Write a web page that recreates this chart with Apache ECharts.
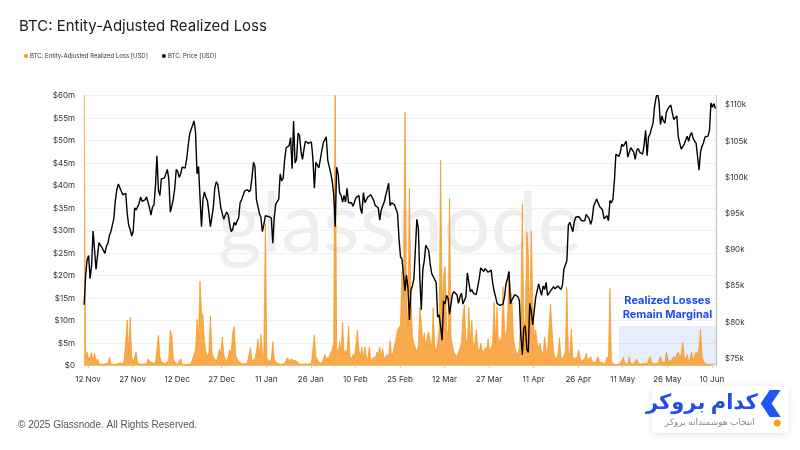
<!DOCTYPE html>
<html>
<head>
<meta charset="utf-8">
<script src="https://cdn.jsdelivr.net/npm/echarts@6/dist/echarts.min.js"></script>
<style>
html,body{margin:0;padding:0;background:#fff;}
#chart{width:800px;height:450px;}
</style>
</head>
<body>
<div id="chart"></div>
<script>
// ---- data (12-hour steps, day 0 = 12 Nov 2024) ----
const START_DAY = -1.3;
const STEP_DAY = 0.5;
const xTickDays = [0, 15, 30, 45, 60, 75, 90, 105, 120, 135, 150, 165, 180, 195, 210];
const xTickLabels = ['12 Nov', '27 Nov', '12 Dec', '27 Dec', '11 Jan', '26 Jan', '10 Feb', '25 Feb', '12 Mar', '27 Mar', '11 Apr', '26 Apr', '11 May', '26 May', '10 Jun'];
const lossTicks = [0, 5, 10, 15, 20, 25, 30, 35, 40, 45, 50, 55, 60];
const priceTicks = [75, 80, 85, 90, 95, 100, 105, 110];

// BTC price, thousands USD
const priceK = [
  82.4,
  86.5, 88.6, 89.2, 86.0, 87.8, 92.6, 90.0, 87.3, 89.2, 91.0, 90.6, 90.3, 90.2, 89.5, 90.5, 90.9, 92.0, 92.5, 92.4, 94.3,
  96.8, 98.3, 99.1, 98.6, 98.1, 97.6, 97.4, 97.8, 95.0, 93.4, 92.8, 91.9, 92.5, 95.8, 95.5, 95.6, 96.4, 97.3, 96.7, 96.5,
  // Dec
  96.9, 97.3, 97.2, 95.8, 94.8, 95.9, 96.2, 98.8, 103.0, 98.2, 97.5, 99.8, 99.8, 99.9, 100.0, 101.1, 99.8, 95.2, 96.0, 97.0,
  98.5, 101.1, 100.8, 100.0, 100.5, 101.4, 101.5, 101.3, 102.5, 104.3, 106.0, 106.1, 107.2, 107.8, 106.2, 100.5, 101.5, 97.3, 93.2, 97.0,
  98.0, 97.2, 96.8, 95.1, 93.2, 94.5, 96.0, 98.6, 99.4, 99.0, 97.5, 95.8, 95.8, 94.2, 94.8, 95.2, 94.8, 93.5, 92.5, 92.8, 93.8, 93.4,
  // Jan
  94.0, 94.4, 96.5, 96.9, 97.0, 98.1, 98.2, 98.3, 98.0, 98.3, 100.0, 102.1, 101.5, 96.9, 96.0, 95.0, 94.5, 92.5, 93.5, 94.7,
  94.5, 94.6, 94.5, 94.4, 90.9, 94.5, 96.3, 96.5, 97.0, 100.5, 99.5, 99.9, 102.5, 104.1, 104.0, 104.4, 105.5, 101.2, 107.8, 102.0,
  102.5, 106.1, 105.8, 103.6, 102.5, 103.9, 105.0, 104.8, 104.7, 104.7, 104.9, 102.6, 98.5, 102.1, 102.0, 101.3, 102.5, 103.7, 104.8, 104.7, 105.6, 102.4,
  // Feb
  101.5, 100.6, 99.5, 97.7, 93.2, 101.4, 100.5, 97.9, 97.5, 96.6, 97.5, 96.6, 98.5, 96.5, 96.5, 96.5, 96.0, 96.1, 97.2, 97.4,
  97.5, 95.7, 95.0, 97.9, 96.5, 96.6, 97.3, 97.5, 97.6, 97.6, 96.8, 96.1, 96.0, 95.8, 94.1, 95.5, 95.7, 96.6, 97.5, 98.3,
  99.2, 96.1, 96.5, 96.6, 96.2, 96.2, 95.0, 91.5, 89.0, 88.7, 88.5, 84.3, 86.5, 84.7, 80.3, 84.4,
  // Mar
  85.0, 86.0, 86.0, 94.2, 93.0, 86.1, 81.7, 87.2, 88.5, 90.6, 90.5, 89.9, 88.0, 86.7, 86.3, 86.1, 85.5, 80.7, 81.0, 79.4,
  77.5, 82.9, 82.5, 83.7, 83.3, 81.1, 82.5, 83.9, 84.2, 84.3, 83.8, 82.6, 83.5, 84.0, 82.5, 82.7, 83.5, 86.8, 85.5, 84.2,
  84.5, 84.0, 84.2, 83.8, 84.0, 86.0, 87.5, 87.5, 87.0, 87.4, 87.5, 86.9, 86.8, 87.2, 85.5, 84.3, 83.5, 82.6, 82.8, 82.3, 82.2, 82.5,
  // Apr
  83.5, 85.2, 86.0, 87.0, 82.5, 83.1, 83.0, 83.8, 83.7, 83.5, 83.0, 78.2, 75.5, 79.2, 79.5, 76.3, 75.8, 82.6, 81.5, 79.6,
  81.5, 83.4, 83.5, 85.3, 84.5, 83.7, 85.0, 84.5, 85.5, 83.7, 84.0, 84.0, 84.6, 84.9, 84.6, 84.5, 85.0, 85.0, 84.5, 85.1,
  87.3, 87.5, 88.5, 93.4, 93.8, 93.7, 92.5, 93.9, 94.5, 94.7, 94.6, 94.6, 94.0, 93.8, 94.0, 94.9, 95.0, 94.3, 93.5, 94.2,
  // May
  96.0, 96.5, 97.0, 96.9, 96.0, 95.9, 95.5, 94.3, 94.5, 94.7, 94.0, 96.8, 96.5, 97.0, 99.5, 103.2, 103.0, 102.9, 103.5, 104.6,
  104.3, 104.1, 105.0, 102.8, 103.0, 104.1, 103.8, 103.5, 102.5, 103.7, 104.0, 103.5, 103.5, 103.2, 104.5, 106.5, 103.0, 105.6, 106.0, 106.8,
  107.5, 109.7, 111.0, 111.7, 110.5, 107.3, 108.5, 107.8, 107.5, 109.0, 109.5, 109.4, 110.0, 108.9, 108.0, 107.8, 108.5, 105.6, 105.5, 103.9, 104.0, 104.6,
  // Jun
  104.5, 105.7, 105.0, 105.8, 106.2, 105.4, 105.0, 104.7, 104.5, 101.0, 103.5, 104.3, 104.8, 105.6, 105.6, 105.7, 106.5, 110.3, 109.7, 110.2,
  109.5
];

// Entity-adjusted realized loss, millions USD
const lossM = [
  62,
  1.5, 3.1, 1.2, 0.8, 2.9, 1.0, 2.8, 0.9, 1.5, 0.5, 0.4, 0.3, 0.3, 0.4, 0.3, 0.5, 1.9, 0.4, 0.3, 0.3,
  0.4, 0.3, 0.3, 0.6, 0.8, 0.4, 1.2, 0.8, 10.2, 2.5, 10.8, 2.0, 0.8, 0.5, 3.1, 0.6, 0.4, 0.3, 0.3, 0.4,
  // Dec
  0.5, 0.4, 1.5, 1.0, 1.3, 0.6, 0.5, 0.6, 1.0, 6.8, 2.0, 0.8, 0.6, 0.5, 0.4, 0.7, 1.5, 7.9, 6.8, 1.6,
  0.8, 0.5, 0.4, 0.3, 1.6, 0.4, 0.3, 0.2, 0.2, 0.3, 0.3, 0.5, 1.5, 2.5, 3.5, 10.3, 6.0, 18.8, 12.0, 11.0,
  5.4, 3.0, 2.0, 3.0, 11.0, 3.0, 2.0, 1.5, 1.0, 2.0, 3.7, 2.5, 6.4, 2.5, 1.5, 1.0, 2.0, 3.6, 2.5, 7.3, 8.7, 2.5,
  // Jan
  1.5, 1.0, 0.6, 0.5, 0.4, 0.4, 0.5, 0.8, 1.2, 4.0, 1.0, 0.8, 1.5, 3.0, 6.0, 2.0, 7.0, 3.0, 2.5, 31.6,
  1.8, 1.0, 0.8, 1.2, 5.3, 1.5, 0.8, 0.5, 0.4, 0.3, 0.3, 0.4, 0.5, 0.6, 1.8, 1.0, 1.5, 1.8, 1.2, 1.6,
  1.0, 0.6, 0.4, 0.3, 0.3, 0.3, 0.4, 0.3, 0.3, 0.5, 0.6, 1.0, 6.8, 2.0, 1.4, 0.8, 0.6, 0.5, 0.8, 2.5, 1.5, 1.2,
  // Feb
  2.0, 3.0, 3.5, 5.0, 65, 4.0, 2.5, 5.4, 3.0, 9.6, 2.5, 3.5, 2.5, 8.8, 2.0, 1.5, 2.5, 1.8, 1.5, 7.9,
  3.5, 2.0, 4.2, 1.5, 4.2, 2.0, 1.5, 4.2, 1.0, 0.8, 2.0, 1.5, 3.0, 2.5, 4.2, 2.0, 3.8, 1.5, 1.5, 2.5,
  2.0, 5.6, 2.0, 3.0, 4.5, 6.0, 7.9, 8.5, 9.0, 20.9, 15.0, 56.3, 14.0, 8.7, 39.4, 16.0,
  // Mar
  6.5, 5.0, 4.0, 3.0, 4.5, 13.0, 9.5, 5.0, 7.3, 4.0, 6.5, 7.5, 5.5, 4.0, 12.9, 4.5, 3.0, 5.0, 8.0, 45.7,
  13.0, 20.0, 22.0, 8.0, 7.0, 37.2, 6.0, 4.5, 3.0, 2.5, 2.0, 3.0, 4.0, 5.0, 10.9, 13.5, 6.0, 4.5, 13.0, 5.0,
  10.0, 4.0, 5.0, 8.0, 4.0, 3.0, 5.0, 3.5, 3.0, 4.0, 3.5, 6.0, 3.0, 4.0, 5.0, 14.2, 5.0, 13.0, 4.0, 6.0, 5.0, 17.6,
  // Apr
  8.0, 6.0, 10.0, 20.9, 17.0, 15.0, 6.0, 4.0, 3.0, 2.5, 4.0, 12.0, 36.0, 9.0, 10.0, 29.8, 25.0, 10.0, 30.0, 14.6,
  6.0, 8.0, 5.0, 4.0, 5.0, 3.0, 2.5, 6.4, 3.6, 3.0, 3.0, 13.7, 8.0, 3.0, 2.0, 1.5, 2.5, 6.2, 2.0, 1.5,
  1.5, 3.0, 17.4, 3.0, 2.5, 8.1, 2.0, 1.5, 1.2, 2.0, 3.5, 1.5, 1.0, 0.8, 1.5, 2.8, 1.2, 0.8, 2.0, 1.0,
  // May
  0.8, 0.6, 0.5, 2.0, 0.8, 0.5, 0.6, 0.4, 0.5, 2.0, 1.5, 17.2, 0.8, 0.4, 0.3, 0.3, 0.3, 0.4, 0.5, 0.3,
  1.8, 0.5, 0.4, 0.3, 2.0, 0.5, 0.4, 0.3, 0.4, 1.5, 0.5, 0.3, 0.3, 0.4, 0.5, 0.3, 0.4, 0.5, 2.0, 0.6,
  0.5, 0.4, 0.3, 0.5, 1.0, 2.0, 0.8, 0.5, 0.6, 3.0, 1.5, 0.8, 1.0, 1.5, 2.0, 1.5, 2.5, 3.0, 2.0, 2.5, 5.1, 2.0,
  // Jun
  1.5, 2.5, 1.0, 1.5, 3.0, 1.2, 1.5, 3.0, 2.5, 4.0, 8.1, 2.0, 1.0, 0.5, 0.3, 0.3, 0.4, 0.3, 0.3, 0.4,
  0.3
];

// annotation box extent (day range, loss level in $m)
const BOX_FROM_DAY = 178.7;
const BOX_TO_DAY = 211.4;
const BOX_TOP_M = 8.8;

const X_MIN = -1.35, X_MAX = 211.4;

const lossData = lossM.map((v, i) => [START_DAY + i * STEP_DAY, v]);
const priceData = priceK.map((v, i) => [START_DAY + i * STEP_DAY, v]);

const chart = echarts.init(document.getElementById('chart'), null, {renderer: 'canvas'});
const FONT = 'Inter, "Noto Sans", sans-serif';

chart.setOption({
  animation: false,
  backgroundColor: '#ffffff',
  title: {
    text: 'BTC: Entity-Adjusted Realized Loss',
    left: 14, top: 14,
    textStyle: {fontFamily: FONT, fontSize: 15, fontWeight: 'normal', color: '#1c1c1c'}
  },
  legend: {
    left: 19, top: 48,
    icon: 'circle', itemWidth: 4, itemHeight: 4, itemGap: 14,
    textStyle: {fontFamily: FONT, fontSize: 6, color: '#333', padding: [0, 0, 0, -3]},
    data: ['BTC: Entity-Adjusted Realized Loss [USD]', 'BTC: Price [USD]']
  },
  grid: {left: 84, right: 84, top: 95.7, bottom: 84.3, containLabel: false},
  xAxis: {
    type: 'value', min: X_MIN, max: X_MAX,
    axisLine: {show: false},
    axisTick: {show: true, length: 3, lineStyle: {color: '#cfcfcf'}, customValues: xTickDays},
    splitLine: {show: false},
    axisLabel: {
      customValues: xTickDays,
      margin: 10, fontFamily: FONT, fontSize: 8, color: '#333',
      formatter: function (v) {
        const i = xTickDays.indexOf(Math.round(v));
        return i >= 0 ? xTickLabels[i] : '';
      }
    }
  },
  yAxis: [
    {
      type: 'value', min: 0, max: 60, interval: 5,
      axisLine: {show: false}, axisTick: {show: false},
      splitLine: {show: true, lineStyle: {color: '#f0f0f0', width: 1}},
      axisLabel: {
        margin: 9, fontFamily: FONT, fontSize: 8, color: '#333',
        formatter: v => v === 0 ? '$0' : '$' + v + 'm'
      }
    },
    {
      type: 'value', position: 'right', min: 73.98, max: 111.29,
      axisLine: {show: true, lineStyle: {color: '#c4c4c4', width: 1.2}},
      axisTick: {show: false},
      splitLine: {show: false},
      axisLabel: {
        customValues: priceTicks,
        margin: 9, fontFamily: FONT, fontSize: 8, color: '#333',
        formatter: v => '$' + v + 'k'
      }
    }
  ],
  graphic: [
    {
      type: 'text', left: 'center', top: 183, z: 0, silent: true,
      style: {text: 'glassnode', fontFamily: 'Lato, Inter, sans-serif', fontSize: 84, fontWeight: 'normal', fill: '#eeeeee'}
    },
    {
      type: 'text', left: 18, top: 420, silent: true,
      style: {text: '\u00A9 2025 Glassnode. All Rights Reserved.', fontFamily: '"Liberation Sans", Arial, sans-serif', fontSize: 10, fill: '#555'}
    },
    {
      type: 'group', left: 646, top: 386, z: 100,
      children: [
        {type: 'rect', shape: {x: 0, y: 0, width: 137, height: 47, r: 4},
          style: {fill: '#ffffff', shadowBlur: 6, shadowColor: 'rgba(0,0,0,0.12)', shadowOffsetY: 1}},
        {type: 'text', style: {x: 106, y: 17, text: 'کدام بروکر', align: 'right', verticalAlign: 'middle',
          fontFamily: '"Noto Sans", "DejaVu Sans", sans-serif', fontSize: 21, fontWeight: 'bold', fill: '#1f4fe6'}},
        {type: 'text', style: {x: 103, y: 36, text: 'انتخاب هوشمندانه بروکر', align: 'right', verticalAlign: 'middle',
          fontFamily: '"Noto Sans", "DejaVu Sans", sans-serif', fontSize: 9, fill: '#8a8a8a'}},
        {type: 'polygon', shape: {points: [[129, 4], [118, 4], [109, 17.5], [118, 31], [129, 31], [120, 17.5]]},
          style: {fill: '#1f55f0'}},
        {type: 'circle', shape: {cx: 125.5, cy: 37, r: 3.5}, style: {fill: '#f5a11c'}}
      ]
    }
  ],
  series: [
    {
      name: 'BTC: Entity-Adjusted Realized Loss [USD]',
      type: 'line', yAxisIndex: 0, z: 2,
      data: lossData, showSymbol: false, symbol: 'none', clip: true,
      color: '#f7931a',
      lineStyle: {color: '#f7931a', width: 0.7},
      areaStyle: {color: '#f8a13a', opacity: 0.9}
    },
    {
      name: 'box', type: 'line', yAxisIndex: 0, z: 3, data: [], silent: true,
      markArea: {
        silent: true,
        itemStyle: {color: 'rgba(100,150,230,0.16)'},
        label: {
          show: true, position: 'top', distance: 4,
          formatter: 'Realized Losses\nRemain Marginal',
          fontFamily: FONT, fontSize: 11, fontWeight: 'bold', color: '#1d4ef5', lineHeight: 14
        },
        data: [[{xAxis: BOX_FROM_DAY, yAxis: 0}, {xAxis: BOX_TO_DAY, yAxis: BOX_TOP_M}]]
      }
    },
    {
      name: 'BTC: Price [USD]',
      type: 'line', yAxisIndex: 1, z: 4,
      data: priceData, showSymbol: false, symbol: 'none',
      color: '#000000',
      lineStyle: {color: '#000000', width: 1.4}
    }
  ]
});
</script>
</body>
</html>
